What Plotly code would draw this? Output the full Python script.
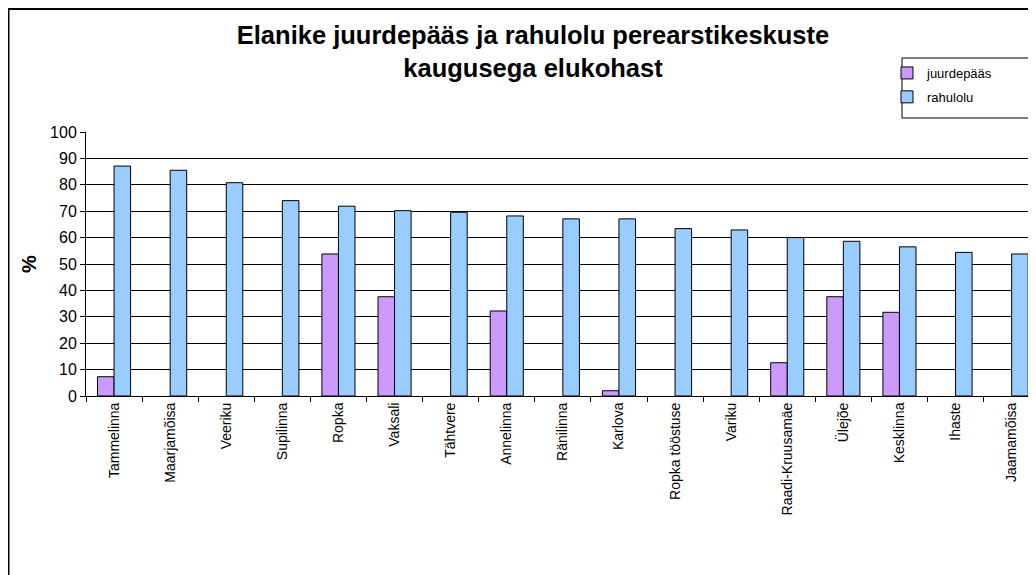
from plotly import graph_objects

# Residential areas, sorted by satisfaction
areas = ['Tammelinna', 'Maarjamõisa', 'Veeriku', 'Supilinna', 'Ropka', 'Vaksali', 'Tähtvere',
         'Annelinna', 'Ränilinna', 'Karlova', 'Ropka tööstuse', 'Variku', 'Raadi-Kruusamäe',
         'Ülejõe', 'Kesklinna', 'Ihaste', 'Jaamamõisa']
juurdepaas = [7.3, None, None, None, 53.8, 37.6, None, 32.2, None, 2.0, None, None, 12.6,
              37.6, 31.7, None, None]
rahulolu = [87.1, 85.5, 80.8, 74.0, 71.9, 70.2, 69.6, 68.2, 67.1, 67.1, 63.4, 62.9, 60.0,
            58.6, 56.5, 54.4, 53.8]
y_ticks = list(range(0, 101, 10))

# the page body has an 8px margin, so work in figure pixels = screen pixels - 8
OFF = 8
W, H = 1036 - OFF, 575 - OFF
L, T, B = 86 - OFF, 132 - OFF, 396 - OFF   # plot area
cat_px = 56.1                               # one category in pixels
PW, PH = W - L, B - T


def px(x):  # screen x -> paper x
    return (x - OFF - L) / PW


def py(y):  # screen y -> paper y
    return (B - (y - OFF)) / PH


font = 'Liberation Sans, Arial, sans-serif'

fig = graph_objects.Figure()
fig.add_bar(x=areas, y=juurdepaas, name='juurdepääs', legendgroup='a',
            marker=dict(color='#CC99FF', line=dict(color='#000000', width=1)))
fig.add_bar(x=areas, y=rahulolu, name='rahulolu', legendgroup='b',
            marker=dict(color='#99CCFF', line=dict(color='#000000', width=1)))

x_hi = -0.5 + PW / cat_px   # last category cut off by the right edge

fig.update_layout(
    width=W, height=H,
    margin=dict(l=L, r=0, t=T, b=H - B, pad=0),
    paper_bgcolor='white', plot_bgcolor='white',
    barmode='group', bargap=0.41, bargroupgap=0,
    font=dict(family=font, color='#000000', size=14),
    title=dict(text='<b>Elanike juurdepääs ja rahulolu perearstikeskuste<br>kaugusega elukohast</b>',
               x=(533 - OFF) / W, xanchor='center', y=1 - 36 / H, yanchor='top',
               font=dict(size=25.5, family=font)),
    legend=dict(x=px(887), xanchor='left', y=py(58), yanchor='top',
                borderwidth=0, bgcolor='rgba(0,0,0,0)',
                font=dict(size=13), itemwidth=30, tracegroupgap=4),
    showlegend=True,
)
fig.update_xaxes(type='category', range=[-0.5, x_hi], tickangle=-90, tickson='boundaries',
                 ticks='outside', ticklen=5, tickcolor='#000000', showline=True,
                 linecolor='#000000', linewidth=1, showgrid=False,
                 tickfont=dict(size=14))
fig.update_yaxes(range=[0, 100], tickvals=y_ticks, ticks='outside', ticklen=5,
                 tickcolor='#000000', showline=True, linecolor='#000000', linewidth=1,
                 showgrid=True, gridcolor='#000000', gridwidth=1, zeroline=False,
                 tickfont=dict(size=16),
                 title=dict(text='<b>%</b>', font=dict(size=20), standoff=8))

# legend frame (its right side falls outside the picture)
fig.add_shape(type='rect', xref='paper', yref='paper',
              x0=px(902), x1=px(1060), y0=py(118), y1=py(58),
              line=dict(color='#000000', width=1), fillcolor='white', layer='below')

# outer chart border (right and bottom edges fall outside the picture)
fig.add_shape(type='rect', xref='paper', yref='paper',
              x0=px(8.5), x1=px(1060), y0=py(600), y1=py(9),
              line=dict(color='#000000', width=2), fillcolor='rgba(0,0,0,0)', layer='above')

fig.write_html('out.html')
